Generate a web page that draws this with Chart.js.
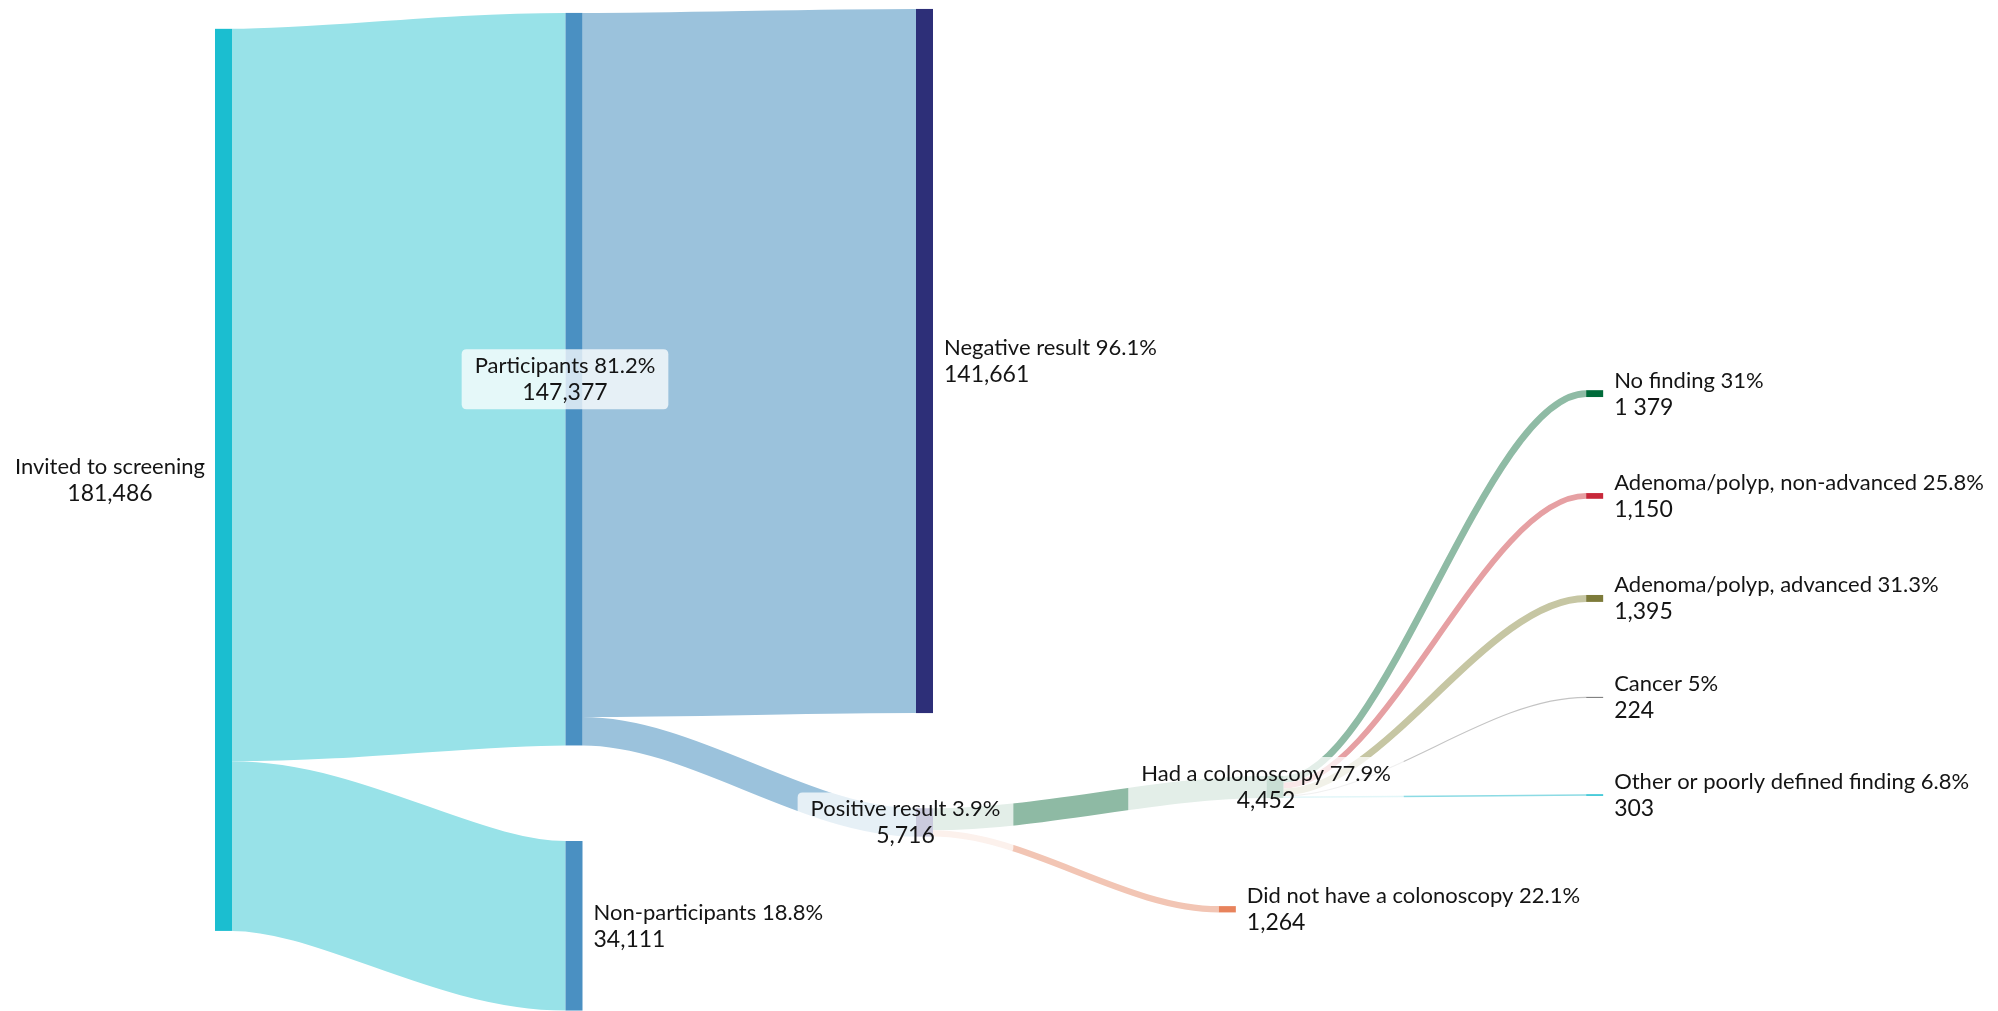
<!DOCTYPE html>
<html>
<head>
<meta charset="UTF-8">
<title>Colorectal cancer screening flow</title>
<script src="https://cdn.jsdelivr.net/npm/chart.js@4.4.1/dist/chart.umd.min.js"></script>
<style>
body {
	margin: 0;
	background: #fff;
}
</style>
</head>
<body>
<canvas id="flowChart" width="1998" height="1011"></canvas>
<script>
// nodes of the screening pathway
var nodeNames = ["Invited to screening", "Participants", "Non-participants", "Negative result",
	"Positive result", "Had a colonoscopy", "Did not have a colonoscopy", "No finding",
	"Adenoma/polyp, non-advanced", "Adenoma/polyp, advanced", "Cancer", "Other or poorly defined finding"];
var nodeShares = ["", "81.2%", "18.8%", "96.1%", "3.9%", "77.9%", "22.1%", "31%", "25.8%", "31.3%", "5%", "6.8%"];
var nodeCounts = [181486, 147377, 34111, 141661, 5716, 4452, 1264, 1379, 1150, 1395, 224, 303];
var countLabels = ["181,486", "147,377", "34,111", "141,661", "5,716", "4,452", "1,264", "1 379", "1,150", "1,395", "224", "303"];

// flows between nodes
var linkFrom = [0, 0, 1, 1, 4, 4, 5, 5, 5, 5, 5];
var linkTo = [1, 2, 3, 4, 5, 6, 7, 8, 9, 10, 11];
var linkValues = [147377, 34111, 141661, 5716, 4452, 1264, 1379, 1150, 1395, 224, 303];

// placement: column (x axis) and top edge (in people, y axis) of every node
var layout = {
	column: [0, 1, 1, 2, 2, 3, 2.864, 3.912, 3.912, 3.912, 3.912, 3.912],
	top: [5800, 2600, 169200, 1800, 162600, 156100, 182300, 78500, 99200, 119700, 140200, 159800],
	side: ["left", "center", "right", "right", "center", "center", "right", "right", "right", "right", "right", "right"],
	labelDx: [0, -9, 0, 0, -19, -9, 0, 0, 0, 0, 0, 0],
	nodeWidth: 0.0485,
	curveFactor: 0.33
};

var nodeColors = ["#1bbed0", "#4a90c2", "#4a90c2", "#2d2f78", "#2f2d78", "#2a7d55", "#e8835c",
	"#006b3a", "#c8283a", "#7d7b3a", "#808080", "#1bbed0"];
var linkColors = ["#98e2e8", "#98e2e8", "#9bc2dc", "#9bc2dc", "#8ebaa4", "#f2c5b4",
	"#8fbba5", "#e6a0a3", "#c6c6a3", "#c4c4c4", "#8cdbe4"];

var nameFont = "22px Lato";
var countFont = "23px Lato";

function roundRect(ctx, x, y, w, h, r) {
	ctx.beginPath();
	ctx.moveTo(x + r, y);
	ctx.lineTo(x + w - r, y);
	ctx.quadraticCurveTo(x + w, y, x + w, y + r);
	ctx.lineTo(x + w, y + h - r);
	ctx.quadraticCurveTo(x + w, y + h, x + w - r, y + h);
	ctx.lineTo(x + r, y + h);
	ctx.quadraticCurveTo(x, y + h, x, y + h - r);
	ctx.lineTo(x, y + r);
	ctx.quadraticCurveTo(x, y, x + r, y);
	ctx.closePath();
}

var sankeyPlugin = {
	id: "sankeyFlow",
	afterDatasetsDraw: function(chart) {
		var ctx = chart.ctx;
		var xs = chart.scales.x;
		var ys = chart.scales.y;

		var rects = nodeCounts.map(function(v, i) {
			return {
				left: xs.getPixelForValue(layout.column[i]),
				right: xs.getPixelForValue(layout.column[i] + layout.nodeWidth),
				top: ys.getPixelForValue(layout.top[i]),
				bottom: ys.getPixelForValue(layout.top[i] + v)
			};
		});

		// links as thick curves, stacked from the top of each node
		var outY = layout.top.slice();
		var inY = layout.top.slice();
		ctx.save();
		ctx.lineCap = "butt";
		linkValues.forEach(function(v, k) {
			var s = linkFrom[k], t = linkTo[k];
			var x0 = rects[s].right, x1 = rects[t].left;
			var y0 = ys.getPixelForValue(outY[s] + v / 2);
			var y1 = ys.getPixelForValue(inY[t] + v / 2);
			var width = ys.getPixelForValue(v) - ys.getPixelForValue(0);
			outY[s] += v;
			inY[t] += v;
			var c = (x1 - x0) * layout.curveFactor;
			ctx.beginPath();
			ctx.moveTo(x0, y0);
			ctx.bezierCurveTo(x0 + c, y0, x1 - c, y1, x1, y1);
			ctx.lineWidth = width;
			ctx.strokeStyle = linkColors[k];
			ctx.stroke();
		});

		// nodes
		rects.forEach(function(r, i) {
			ctx.fillStyle = nodeColors[i];
			ctx.fillRect(r.left, r.top, r.right - r.left, r.bottom - r.top);
		});

		// labels
		ctx.textBaseline = "alphabetic";
		rects.forEach(function(r, i) {
			var l1 = nodeNames[i] + (nodeShares[i] ? " " + nodeShares[i] : "");
			var l2 = countLabels[i];
			ctx.font = nameFont;
			var w1 = ctx.measureText(l1).width;
			ctx.font = countFont;
			var w2 = ctx.measureText(l2).width;
			var w = Math.max(w1, w2);
			var cy = (r.top + r.bottom) / 2;
			var side = layout.side[i];
			var bx;
			if (side === "left") {
				bx = r.left - 10 - w;
			} else if (side === "right") {
				bx = r.right + 11;
			} else {
				bx = (r.left + r.right) / 2 - w / 2 + layout.labelDx[i];
				ctx.fillStyle = "rgba(255,255,255,0.75)";
				roundRect(ctx, bx - 13, cy - 30, w + 26, 60, 5);
				ctx.fill();
			}
			var tx = side === "right" ? bx : bx + w / 2;
			ctx.textAlign = side === "right" ? "left" : "center";
			ctx.fillStyle = "#141414";
			ctx.font = nameFont;
			ctx.fillText(l1, tx, cy - 6);
			ctx.font = countFont;
			ctx.fillText(l2, tx, cy + 21);
		});
		ctx.restore();
	}
};

new Chart(document.getElementById("flowChart"), {
	type: "scatter",
	data: { datasets: [] },
	options: {
		responsive: false,
		animation: false,
		layout: { padding: 0 },
		plugins: { legend: { display: false }, tooltip: { enabled: false } },
		scales: {
			x: { type: "linear", display: false, min: -0.6134, max: 5.087 },
			y: { type: "linear", display: false, reverse: true, min: 0, max: 203400 }
		}
	},
	plugins: [sankeyPlugin]
});
</script>
</body>
</html>
